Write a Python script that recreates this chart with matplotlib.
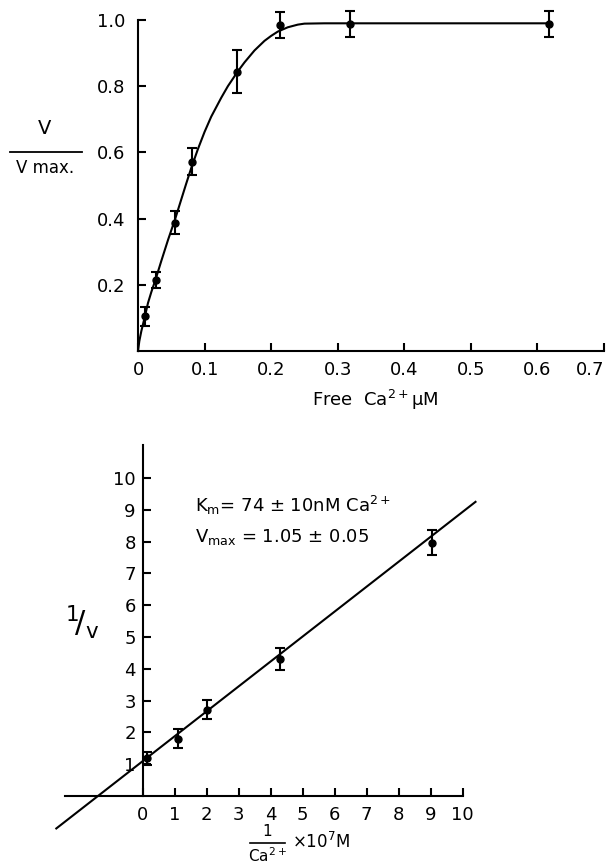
import numpy as np
from matplotlib import pyplot as plt
from matplotlib.lines import Line2D

# top panel: v/vmax vs free Ca2+
ca_free = [0.0105, 0.027, 0.056, 0.081, 0.148, 0.214, 0.318, 0.618]
v_rel = [0.105, 0.215, 0.387, 0.572, 0.844, 0.985, 0.988, 0.988]
v_err = [0.028, 0.025, 0.035, 0.04, 0.065, 0.04, 0.04, 0.04]

# fitted curve
curve_x = [0, 0.002, 0.005, 0.011, 0.015, 0.02, 0.027, 0.035, 0.045, 0.056, 0.065,
           0.072, 0.08, 0.09, 0.1, 0.11, 0.125, 0.135, 0.15, 0.16, 0.175, 0.19,
           0.2, 0.21, 0.225, 0.24, 0.25, 0.28, 0.35, 0.45, 0.62]
curve_y = [0, 0.03, 0.06, 0.11, 0.145, 0.178, 0.22, 0.272, 0.335, 0.40, 0.458,
           0.503, 0.553, 0.61, 0.662, 0.708, 0.765, 0.8, 0.845, 0.872, 0.908, 0.937,
           0.952, 0.965, 0.978, 0.986, 0.989, 0.99, 0.99, 0.99, 0.99]

# bottom panel: double reciprocal
inv_ca = [0.12, 1.1, 2.0, 4.3, 9.05]
inv_v = [1.18, 1.8, 2.72, 4.3, 7.97]
inv_err = [0.2, 0.3, 0.3, 0.34, 0.38]
fit_x = [-2.7, 10.4]
fit_y = [-1.02, 9.25]

top_xticks = [0, 0.1, 0.2, 0.3, 0.4, 0.5, 0.6, 0.7]
top_xlabels = ['0', '0.1', '0.2', '0.3', '0.4', '0.5', '0.6', '0.7']
top_yticks = [0.2, 0.4, 0.6, 0.8, 1.0]
top_ylabels = ['0.2', '0.4', '0.6', '0.8', '1.0']

W, H = 608, 867
fig = plt.figure(figsize=(W / 100, H / 100), dpi=100)

def px(x0, y0, x1, y1):
    return [x0 / W, 1 - y1 / H, (x1 - x0) / W, (y1 - y0) / H]

lw = 1.5
fs = 13

# ---- top
ax1 = fig.add_axes(px(138, 20, 604, 351))
ax1.plot(curve_x, curve_y, color='black', lw=lw, clip_on=False)
ax1.errorbar(ca_free, v_rel, yerr=v_err, fmt='o', color='black', ms=5,
             elinewidth=lw, capsize=3.5, capthick=lw, clip_on=False)
ax1.set_xlim(0, 0.7)
ax1.set_ylim(0, 1.0)
ax1.spines['top'].set_visible(False)
ax1.spines['right'].set_visible(False)
for s in ['left', 'bottom']:
    ax1.spines[s].set_linewidth(lw)
ax1.set_xticks(top_xticks)
ax1.set_xticklabels(top_xlabels)
ax1.set_yticks(top_yticks)
ax1.set_yticklabels(top_ylabels)
ax1.tick_params(direction='in', length=6, width=lw, labelsize=fs)
ax1.tick_params(axis='x', pad=7)
ax1.tick_params(axis='y', pad=9)
ax1.get_xticklabels()[-1].set_horizontalalignment('right')

fig.text(375 / W, 1 - 400 / H, r'Free  Ca$^\mathregular{2+}$$\mathregular{\mu}$M',
         ha='center', va='center', fontsize=fs)
fig.text(45 / W, 1 - 128 / H, 'V', ha='center', va='center', fontsize=fs + 1)
fig.add_artist(Line2D([10 / W, 82 / W], [1 - 152 / H, 1 - 152 / H], color='black', lw=1.3))
fig.text(45 / W, 1 - 168 / H, 'V max.', ha='center', va='center', fontsize=fs - 1)

# ---- bottom
ax2 = fig.add_axes(px(56.3, 444.6, 478.7, 831))
ax2.plot(fit_x, fit_y, color='black', lw=lw, clip_on=False)
ax2.errorbar(inv_ca, inv_v, yerr=inv_err, fmt='o', color='black', ms=5,
             elinewidth=lw, capsize=3.5, capthick=lw, clip_on=False)
ax2.set_xlim(-2.7, 10.5)
ax2.set_ylim(-1.1, 11.05)
ax2.spines['top'].set_visible(False)
ax2.spines['right'].set_visible(False)
ax2.spines['left'].set_position(('data', 0))
ax2.spines['bottom'].set_position(('data', 0))
ax2.spines['left'].set_bounds(0, 11.05)
ax2.spines['bottom'].set_bounds(-2.43, 10)
for s in ['left', 'bottom']:
    ax2.spines[s].set_linewidth(lw)
ax2.set_xticks(range(0, 11))
ax2.set_yticks(range(1, 11))
ax2.tick_params(direction='in', length=6, width=lw, labelsize=fs)
ax2.tick_params(axis='x', pad=7)
ax2.tick_params(axis='y', pad=5)

ax2.text(195 / W, 1 - 505 / H, r'K$_\mathregular{m}$= 74 ± 10nM Ca$^\mathregular{2+}$',
         transform=fig.transFigure, ha='left', va='center', fontsize=fs)
ax2.text(195 / W, 1 - 537 / H, r'V$_\mathregular{max}$ = 1.05 ± 0.05',
         transform=fig.transFigure, ha='left', va='center', fontsize=fs)
fig.text(82 / W, 1 - 622 / H, r'$^\mathregular{1}\!/_\mathregular{v}$', ha='center', va='center',
         fontsize=22)
fig.text(267 / W, 1 - 832 / H, '1', ha='center', va='center', fontsize=fs - 2)
fig.add_artist(Line2D([250 / W, 285 / W], [1 - 843 / H, 1 - 843 / H], color='black', lw=1.2))
fig.text(267 / W, 1 - 856 / H, r'Ca$^\mathregular{2+}$', ha='center', va='center', fontsize=fs - 2)
fig.text(292 / W, 1 - 842 / H, r'×10$^\mathregular{7}$M', ha='left', va='center', fontsize=fs - 1)

fig.savefig('out.png', dpi=100)
